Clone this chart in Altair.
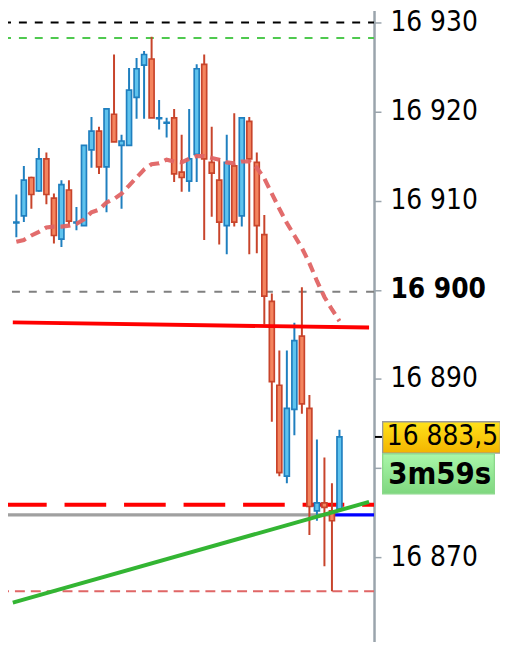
import altair as alt
import pandas as pd

# ---------------- data ----------------
opens = [16907.5, 16908.3, 16912.6, 16911.1, 16914.7, 16910.3, 16905.7, 16911.2, 16907.5, 16907.2,
         16915.7, 16917.8, 16913.8, 16919.7, 16916.2, 16916.2, 16921.6, 16925.2, 16925.9, 16919.2,
         16918.7, 16919.3, 16913.2, 16912.2, 16915.2, 16925.3, 16914.3, 16912.3, 16907.2, 16913.9,
         16908.3, 16918.9, 16914.3, 16906.2, 16898.7, 16889.3, 16879.1, 16886.6, 16894.8, 16886.7,
         16875.2, 16876.1, 16875.2, 16875.4]
highs = [16910.7, 16913.9, 16912.7, 16915.9, 16915.4, 16910.8, 16912.3, 16912.3, 16909.3, 16916.2,
         16919.4, 16918.3, 16920.3, 16926.4, 16917.4, 16924.9, 16926.0, 16926.8, 16928.4, 16921.3,
         16919.3, 16920.3, 16917.4, 16920.3, 16925.3, 16926.4, 16918.3, 16914.8, 16917.4, 16919.8,
         16919.3, 16919.4, 16915.4, 16908.4, 16899.6, 16893.2, 16893.2, 16896.3, 16900.3, 16888.2,
         16883.2, 16881.2, 16878.3, 16884.3]
lows = [16905.9, 16907.6, 16909.1, 16911.0, 16909.6, 16905.2, 16904.8, 16907.1, 16906.7, 16907.2,
        16913.7, 16913.0, 16908.7, 16916.6, 16909.1, 16916.2, 16919.2, 16919.2, 16919.3, 16918.0,
        16917.1, 16912.1, 16911.0, 16911.0, 16912.1, 16905.6, 16908.2, 16905.1, 16904.0, 16907.1,
        16907.1, 16904.0, 16904.1, 16896.1, 16885.2, 16879.1, 16878.3, 16883.7, 16886.1, 16872.5,
        16874.1, 16869.0, 16866.2, 16875.2]
closes = [16907.6, 16912.3, 16910.7, 16914.7, 16910.7, 16906.1, 16911.8, 16907.7, 16907.6, 16916.2,
          16917.8, 16913.8, 16920.3, 16916.6, 16916.7, 16922.4, 16924.8, 16926.4, 16919.3, 16919.3,
          16918.8, 16913.0, 16912.6, 16914.7, 16924.8, 16914.7, 16913.1, 16907.6, 16914.3, 16907.6,
          16919.3, 16914.7, 16907.2, 16899.3, 16889.7, 16879.5, 16886.7, 16894.3, 16887.2, 16875.7,
          16876.1, 16875.6, 16874.1, 16883.5]
ma = [16905.4, 16905.6, 16906.1, 16906.5, 16907.0, 16907.1, 16907.1, 16907.2, 16907.4, 16907.9,
      16908.7, 16909.0, 16909.8, 16910.2, 16910.8, 16911.7, 16912.6, 16913.5, 16914.1, 16914.2,
      16914.6, 16914.4, 16914.3, 16914.7, 16915.0, 16915.0, 16914.8, 16914.6, 16914.3, 16914.2,
      16914.4, 16914.4, 16913.7, 16912.5, 16910.8, 16909.1, 16907.5, 16906.1, 16904.7, 16903.0,
      16901.0, 16899.2, 16897.8, 16896.5]

level_black = 16930.0
level_green = 16928.25
level_gray_dash = 16899.8
level_red_dash = 16875.9
level_low_dash = 16866.2
level_gray_solid = 16874.75
blue_start_bar = 42

red_trend_x = [-0.47, 46.94]
red_trend_y = [16896.35, 16895.77]
green_trend_x = [-0.47, 46.94]
green_trend_y = [16864.91, 16876.21]

last_price = 16883.5
timer_text = "3m59s"
y_ticks = [16870, 16880, 16890, 16900, 16910, 16920, 16930]
hidden_tick_label = 16880  # covered by the price boxes in the reference

# ---------------- layout ----------------
W, H = 369, 636
X_DOM = [-0.45, 46.94]
Y_DOM = [16860.56, 16931.33]
PPU = H / (Y_DOM[1] - Y_DOM[0])
FONT = "DejaVu Sans Condensed, DejaVu Sans"

xs = alt.Scale(domain=X_DOM, nice=False, zero=False)
ys = alt.Scale(domain=Y_DOM, nice=False, zero=False)

BLUE_D, BLUE_L = "#1f7fbf", "#5ec3ee"
RED_D, RED_L = "#c8442b", "#f4845e"

candles = pd.DataFrame({"i": list(range(len(opens))), "o": opens, "h": highs, "l": lows, "c": closes})
up = "datum.c >= datum.o"

yaxis = alt.Axis(
    orient="right", values=y_ticks, title=None, grid=False,
    labelExpr=(f"datum.value == {hidden_tick_label} ? '' : "
               "substring(format(datum.value,'d'),0,2) + ' ' + substring(format(datum.value,'d'),2)"),
    labelFont=FONT, labelFontSize=28, labelColor="black",
    labelFontWeight={"condition": {"test": "datum.value == 16900", "value": "bold"}, "value": "normal"},
    tickSize=7, tickColor="#9aa4ac", tickWidth=1.5,
    domainColor="#9aa4ac", domainWidth=2.5, labelPadding=9,
    labelFlush=False, labelOverlap=False, labelBound=False,
)


def Y(field):
    return alt.Y(field, scale=ys, axis=yaxis, title=None)


def X(field):
    return alt.X(field, scale=xs, axis=None, title=None)


def hrule(value, **kw):
    df = pd.DataFrame({"v": [value]})
    return alt.Chart(df).mark_rule(clip=True, **kw).encode(y=Y("v:Q"))


layers = []
layers.append(hrule(level_black, color="black", strokeWidth=2, strokeDash=[8, 8], strokeDashOffset=2))
layers.append(hrule(level_green, color="#4fc94f", strokeWidth=2, strokeDash=[8, 8], strokeDashOffset=2))
layers.append(hrule(level_gray_dash, color="#808080", strokeWidth=2, strokeDash=[8, 9]))
layers.append(hrule(level_low_dash, color="#e06666", strokeWidth=2, strokeDash=[10, 6]))
layers.append(hrule(level_red_dash, color="#ff0000", strokeWidth=4, strokeDash=[42, 18], strokeDashOffset=30))

seg = pd.DataFrame({"x0": [X_DOM[0] - 1, blue_start_bar], "x1": [blue_start_bar, X_DOM[1] + 1],
                    "v": [level_gray_solid, level_gray_solid], "k": ["gray", "blue"]})
layers.append(alt.Chart(seg).mark_rule(clip=True, strokeWidth=3.2).encode(
    x=X("x0:Q"), x2="x1:Q", y=Y("v:Q"),
    color=alt.Color("k:N", scale=alt.Scale(domain=["gray", "blue"], range=["#a0a0a0", "#0000ff"]), legend=None)))

wicks = alt.Chart(candles).mark_rule(strokeWidth=2, clip=True).encode(
    x=X("i:Q"), y=Y("l:Q"), y2="h:Q",
    color=alt.condition(up, alt.value(BLUE_D), alt.value(RED_D)))
bodies = alt.Chart(candles).mark_bar(width=5, strokeWidth=1.7, clip=True).encode(
    x=X("i:Q"), y=Y("o:Q"), y2="c:Q",
    fill=alt.condition(up, alt.value(BLUE_L), alt.value(RED_L)),
    stroke=alt.condition(up, alt.value(BLUE_D), alt.value(RED_D)))
layers += [wicks, bodies]


def trend(xv, yv, color):
    df = pd.DataFrame({"x": xv, "y": yv})
    return alt.Chart(df).mark_line(clip=True, color=color, strokeWidth=4).encode(
        x=X("x:Q"), y=Y("y:Q"))


layers.append(trend(red_trend_x, red_trend_y, "#ff0000"))
layers.append(trend(green_trend_x, green_trend_y, "#33b533"))

ma_df = pd.DataFrame({"i": list(range(len(ma))), "ma": ma})
layers.append(alt.Chart(ma_df).mark_line(clip=True, color="#e06464", strokeWidth=4.2,
                                          strokeDash=[10, 6], opacity=0.95).encode(
    x=X("i:Q"), y=Y("ma:Q")))

price_label = f"{last_price:,.1f}".replace(",", " ").replace(".", ",")
info = pd.DataFrame({"price": [last_price], "label": [price_label], "timer": [timer_text]})
ib = alt.Chart(info).transform_calculate(
    yt=f"datum.price + {15.3 / PPU}", yb=f"datum.price - {16.3 / PPU}",
    gt=f"datum.price - {17.0 / PPU}", gb=f"datum.price - {57.3 / PPU}",
    ty=f"datum.price - {38.0 / PPU}")

yellow = alt.Gradient(gradient="linear", x1=0, x2=0, y1=0, y2=1,
                      stops=[alt.GradientStop(color="#ffe21a", offset=0),
                             alt.GradientStop(color="#f3b400", offset=1)])
green = alt.Gradient(gradient="linear", x1=0, x2=0, y1=0, y2=1,
                     stops=[alt.GradientStop(color="#aaf7aa", offset=0),
                            alt.GradientStop(color="#7fd77f", offset=1)])

layers.append(ib.mark_rule(clip=False, color="black", strokeWidth=2).encode(
    x=alt.value(W + 1), x2=alt.value(W + 8), y=Y("price:Q")))
layers.append(ib.mark_rect(clip=False, fill=yellow, stroke="#9a9a9a", strokeWidth=1.3).encode(
    x=alt.value(W + 8.7), x2=alt.value(W + 127.3), y=Y("yt:Q"), y2="yb:Q"))
layers.append(ib.mark_rect(clip=False, fill=green, stroke="#8ad88a", strokeWidth=1.3).encode(
    x=alt.value(W + 8.7), x2=alt.value(W + 121.3), y=Y("gt:Q"), y2="gb:Q"))
layers.append(ib.mark_text(font=FONT, fontSize=28, color="black", align="center",
                           baseline="middle").encode(
    x=alt.value(W + 69), y=Y("price:Q"), text="label:N"))
layers.append(ib.mark_text(font=FONT, fontSize=31, fontWeight="bold", color="black",
                           align="center", baseline="middle").encode(
    x=alt.value(W + 66.3), y=Y("ty:Q"), text="timer:N"))

chart = alt.layer(*layers).properties(
    width=W, height=H,
    autosize=alt.AutoSizeParams(type="none"),
    padding={"left": 0, "top": 0, "right": 127, "bottom": 0},
    background="white",
).configure_view(stroke=None)

chart.save("out.html", embed_options={"renderer": "svg", "actions": False})
